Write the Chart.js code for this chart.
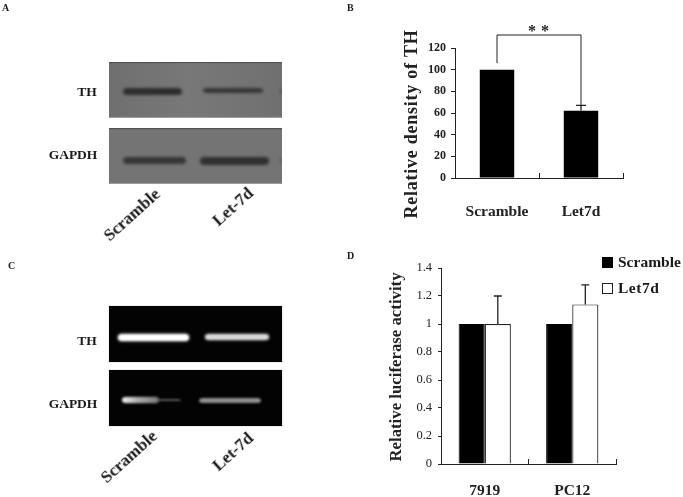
<!DOCTYPE html>
<html>
<head>
<meta charset="utf-8">
<title>TH / Let-7d</title>
<script src="https://cdn.jsdelivr.net/npm/chart.js@4"></script>
<style>
  html, body { margin: 0; padding: 0; background: #fff; }
  body { position: relative; width: 683px; height: 497px; overflow: hidden; font-family: "Liberation Serif", serif; font-weight: bold; color: #1a1a1a; }
  .abs { position: absolute; white-space: nowrap; filter: blur(0.35px); }
  .letter { font-size: 10px; line-height: 10px; }
  .name { font-size: 13.5px; line-height: 14px; transform: translate(-50%, -50%); }
  .rot { font-size: 17px; line-height: 18px; transform: translate(-50%, -50%) rotate(-42deg); }
  .blot { position: absolute; left: 109px; width: 173px; height: 56px; overflow: hidden; }
  .western { background: linear-gradient(90deg, #6f6f6f, #787878 45%, #707070); box-shadow: inset 0 1px 1px #4d4d4d, inset 0 -1px 1px #a0a0a0; }
  .gel { background: #030303; box-shadow: 0 0 1px #999; }
  .band { position: absolute; border-radius: 4px / 50%; }
  .western .band { background: #2e2e2e; filter: blur(1.7px); }
  .gel .band { background: #fff; filter: blur(1.1px); }
  canvas { position: absolute; filter: blur(0.35px); }
  #wrapB { position: absolute; left: 395px; top: 0; width: 245px; height: 235px; }
  #wrapD { position: absolute; left: 380px; top: 245px; width: 303px; height: 252px; }
  .key { position: absolute; left: 602px; width: 11px; height: 11px; box-sizing: border-box; filter: blur(0.3px); }
  .keyText { left: 618px; font-size: 15.5px; line-height: 16px; transform: translateY(-50%); }
</style>
</head>
<body>
<div class="abs letter" style="left:2px;top:3px">A</div>
<div class="abs letter" style="left:347px;top:3px">B</div>
<div class="abs letter" style="left:8px;top:261px">C</div>
<div class="abs letter" style="left:347px;top:251px">D</div>

<!-- panel A: western blot -->
<div class="blot western" style="top:62px">
  <div class="band" style="left:14px;top:26px;width:59px;height:7px"></div>
  <div class="band" style="left:94px;top:26px;width:60px;height:5px;background:#363636"></div>
  <div class="band" style="left:171px;top:26px;width:2px;height:6px;background:#555"></div>
</div>
<div class="blot western" style="top:128px;background:#747474">
  <div class="band" style="left:14px;top:29px;width:63px;height:7px;background:#363636"></div>
  <div class="band" style="left:91px;top:29px;width:69px;height:8px;background:#303030"></div>
  <div class="band" style="left:171px;top:30px;width:2px;height:5px;background:#555"></div>
</div>
<div class="abs name" style="left:87px;top:92px">TH</div>
<div class="abs name" style="left:73px;top:155px">GAPDH</div>
<div class="abs rot" style="left:132px;top:215px">Scramble</div>
<div class="abs rot" style="left:233px;top:207px">Let-7d</div>

<!-- panel C: gel -->
<div class="blot gel" style="top:306px">
  <div class="band" style="left:9px;top:28px;width:71px;height:7px;box-shadow:0 0 3px #bbb"></div>
  <div class="band" style="left:96px;top:28px;width:64px;height:6px;background:#d8d8d8;box-shadow:0 0 3px #888"></div>
</div>
<div class="blot gel" style="top:370px">
  <div class="band" style="left:13px;top:27px;width:37px;height:6px;background:linear-gradient(90deg,#eee,#aaa 45%,#777);box-shadow:0 0 2px #666"></div>
  <div class="band" style="left:48px;top:29px;width:24px;height:2px;background:#5a5a5a"></div>
  <div class="band" style="left:90px;top:28px;width:62px;height:5px;background:#8f8f8f"></div>
</div>
<div class="abs name" style="left:87px;top:341px">TH</div>
<div class="abs name" style="left:73px;top:404px">GAPDH</div>
<div class="abs rot" style="left:129px;top:457px">Scramble</div>
<div class="abs rot" style="left:233px;top:452px">Let-7d</div>

<div id="wrapB"><canvas id="chartB" width="245" height="235"></canvas></div>
<div id="wrapD"><canvas id="chartD" width="303" height="252"></canvas></div>

<!-- leyenda del panel D -->
<div class="key" style="top:257px;background:#000"></div>
<div class="key" style="top:283px;background:#fff;border:1.2px solid #222"></div>
<div class="abs keyText" style="top:262px">Scramble</div>
<div class="abs keyText" style="top:288px;letter-spacing:0.5px">Let7d</div>

<script>
// Panel B
const categoriasB = ['Scramble', 'Let7d'];
const densidadTH = [100, 62];
const errorSuperiorB = [null, 67];
const ticksB = [0, 20, 40, 60, 80, 100, 120];
const corcheteB = { izquierda: 106, arriba: 132, derecha: 67 };

// Panel D
const categoriasD = ['7919', 'PC12'];
const luciferasaScramble = [1, 1];
const luciferasaLet7d = [1, 1.14];
const errorSuperiorD = [1.2, 1.28];
const ticksD = ['0', '0.2', '0.4', '0.6', '0.8', '1', '1.2', '1.4'];

const SERIF = '"Liberation Serif", serif';
const INK = '#222';

// Barras de error solo hacia arriba
function errorBars(datasetIndex, tops, capWidth) {
  return {
    id: 'errorBars',
    afterDatasetsDraw(chart) {
      const { ctx, scales: { y } } = chart;
      const meta = chart.getDatasetMeta(datasetIndex);
      ctx.save();
      ctx.strokeStyle = INK;
      ctx.lineWidth = 1.3;
      tops.forEach((top, i) => {
        if (top === null) return;
        const x = meta.data[i].x;
        const yTop = y.getPixelForValue(top);
        ctx.beginPath();
        ctx.moveTo(x, meta.data[i].y);
        ctx.lineTo(x, yTop);
        ctx.moveTo(x - capWidth / 2, yTop);
        ctx.lineTo(x + capWidth / 2, yTop);
        ctx.stroke();
      });
      ctx.restore();
    }
  };
}

// Titulo del eje Y colocado a mano, no queda centrado con el eje
function yTitle(text, x, yCenter, font, spacing) {
  return {
    id: 'yTitle',
    afterDraw(chart) {
      const { ctx } = chart;
      ctx.save();
      ctx.translate(x, yCenter);
      ctx.rotate(-Math.PI / 2);
      ctx.font = font;
      ctx.letterSpacing = spacing;
      ctx.fillStyle = INK;
      ctx.textAlign = 'center';
      ctx.textBaseline = 'middle';
      ctx.fillText(text, 0, 0);
      ctx.restore();
    }
  };
}

// Corchete de significancia con ** encima
const significancia = {
  id: 'significancia',
  afterDraw(chart) {
    const { ctx, scales: { y } } = chart;
    const meta = chart.getDatasetMeta(0);
    const x0 = meta.data[0].x;
    const x1 = meta.data[1].x;
    const yTop = y.getPixelForValue(corcheteB.arriba);
    ctx.save();
    ctx.strokeStyle = INK;
    ctx.lineWidth = 1;
    ctx.beginPath();
    ctx.moveTo(x0, y.getPixelForValue(corcheteB.izquierda));
    ctx.lineTo(x0, yTop);
    ctx.lineTo(x1, yTop);
    ctx.lineTo(x1, y.getPixelForValue(corcheteB.derecha));
    ctx.stroke();
    ctx.font = 'bold 16px ' + SERIF;
    ctx.fillStyle = INK;
    ctx.textAlign = 'center';
    ctx.textBaseline = 'middle';
    ctx.fillText('*', (x0 + x1) / 2 - 7, yTop - 3);
    ctx.fillText('*', (x0 + x1) / 2 + 6, yTop - 3);
    ctx.restore();
  }
};

function xAxis(fontSize, padding, height) {
  return {
    afterFit: s => { s.height = height; },
    border: { color: INK, width: 1 },
    grid: { drawOnChartArea: false, color: INK, tickLength: -5, offset: true },
    ticks: { color: INK, padding, autoSkip: false, maxRotation: 0, font: { family: SERIF, size: fontSize, weight: 'bold' } }
  };
}

new Chart(document.getElementById('chartB'), {
  type: 'bar',
  data: {
    labels: categoriasB,
    datasets: [{ label: 'Relative density of TH', data: densidadTH, backgroundColor: '#000', barPercentage: 0.41, categoryPercentage: 1 }]
  },
  options: {
    responsive: false,
    animation: false,
    layout: { padding: { top: 48, right: 17, left: 0, bottom: 0 } },
    plugins: { legend: { display: false }, tooltip: { enabled: false } },
    scales: {
      x: xAxis(15.5, 30, 57),
      y: {
        min: 0,
        max: 120,
        afterFit: s => { s.width = 60; },
        afterBuildTicks: s => { s.ticks = ticksB.map(value => ({ value })); },
        border: { color: INK, width: 1 },
        grid: { drawOnChartArea: false, color: INK, tickLength: 4 },
        ticks: { color: INK, padding: 5, font: { family: SERIF, size: 12, weight: 'bold' } }
      }
    }
  },
  plugins: [errorBars(0, errorSuperiorB, 10), significancia, yTitle('Relative density of TH', 17, 124, 'bold 18px ' + SERIF, '0.75px')]
});

new Chart(document.getElementById('chartD'), {
  type: 'bar',
  data: {
    labels: categoriasD,
    datasets: [
      { label: 'Scramble', data: luciferasaScramble, backgroundColor: '#000', borderColor: '#000', borderWidth: 1, barPercentage: 1, categoryPercentage: 0.597 },
      { label: 'Let7d', data: luciferasaLet7d, backgroundColor: '#fff', borderColor: '#222', borderWidth: 1.2, barPercentage: 1, categoryPercentage: 0.597 }
    ]
  },
  options: {
    responsive: false,
    animation: false,
    layout: { padding: { top: 23, right: 67, left: 0, bottom: 0 } },
    plugins: { legend: { display: false }, tooltip: { enabled: false } },
    scales: {
      x: xAxis(15.5, 23, 33),
      y: {
        min: 0,
        max: 1.4,
        afterFit: s => { s.width = 61; },
        afterBuildTicks: s => { s.ticks = ticksD.map(t => ({ value: Number(t) })); },
        border: { color: INK, width: 1 },
        grid: { drawOnChartArea: false, color: INK, tickLength: 3 },
        ticks: { color: INK, padding: 6, callback: v => String(v), font: { family: SERIF, size: 12.5 } }
      }
    }
  },
  plugins: [errorBars(1, errorSuperiorD, 8), yTitle('Relative luciferase activity', 17, 122, 'bold 16.8px ' + SERIF, '0px')]
});
</script>
</body>
</html>
